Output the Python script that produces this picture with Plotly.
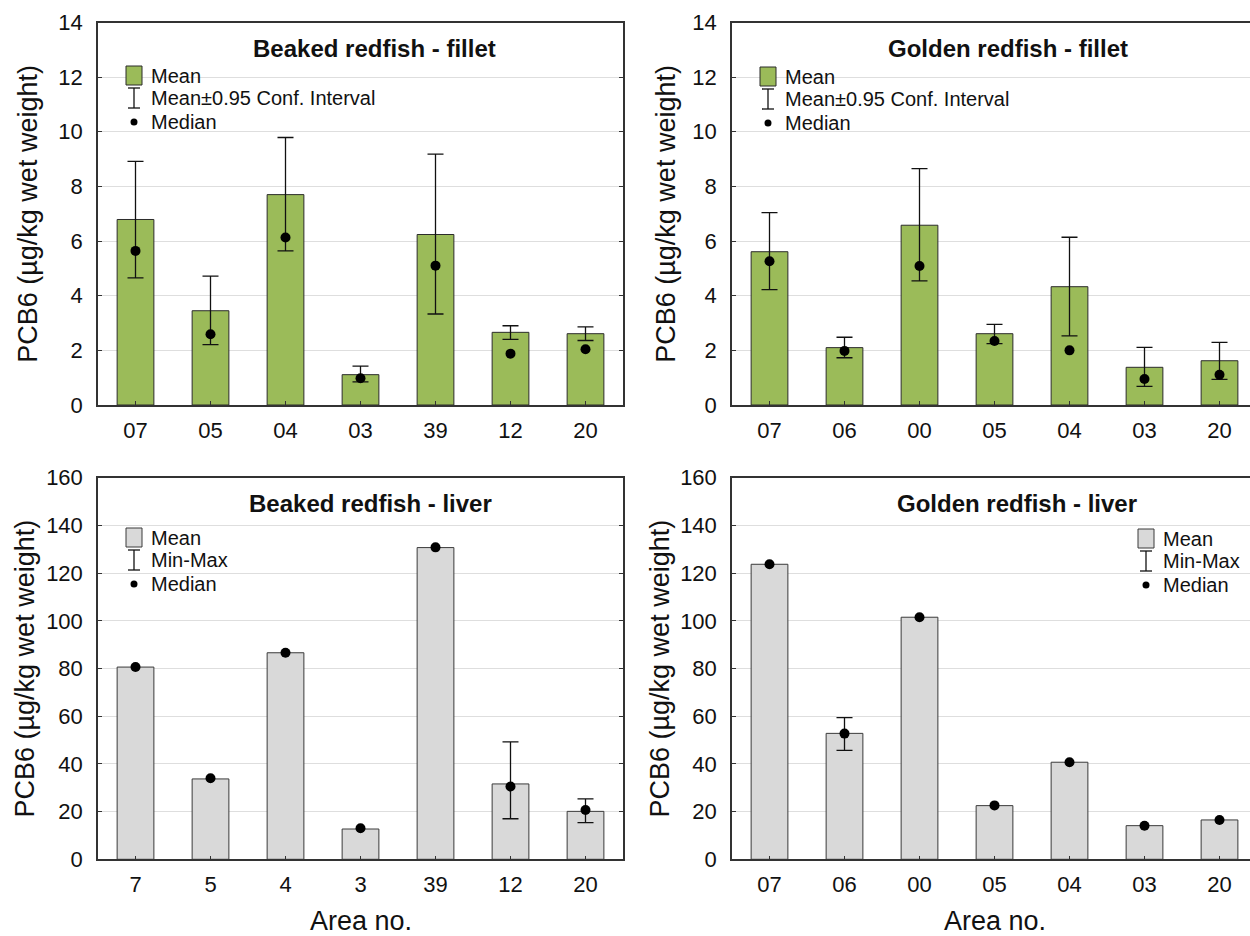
import plotly.graph_objects as go

W, H = 1250, 936

# ---------------- data ----------------
bf_areas = ["07", "05", "04", "03", "39", "12", "20"]
bf_mean = [6.79, 3.45, 7.70, 1.11, 6.24, 2.66, 2.61]
bf_ci_low = [4.65, 2.21, 5.64, 0.85, 3.33, 2.40, 2.36]
bf_ci_high = [8.92, 4.72, 9.79, 1.42, 9.18, 2.90, 2.86]
bf_median = [5.64, 2.59, 6.13, 0.98, 5.10, 1.88, 2.04]

gf_areas = ["07", "06", "00", "05", "04", "03", "20"]
gf_mean = [5.61, 2.10, 6.58, 2.61, 4.33, 1.38, 1.62]
gf_ci_low = [4.22, 1.73, 4.54, 2.25, 2.53, 0.68, 0.94]
gf_ci_high = [7.04, 2.48, 8.65, 2.95, 6.14, 2.11, 2.29]
gf_median = [5.26, 1.98, 5.09, 2.34, 2.00, 0.95, 1.11]

bl_areas = ["7", "5", "4", "3", "39", "12", "20"]
bl_mean = [80.6, 33.7, 86.6, 12.7, 130.7, 31.6, 20.1]
bl_min = [None, None, None, None, None, 17.0, 15.4]
bl_max = [None, None, None, None, None, 49.2, 25.3]
bl_median = [80.6, 34.0, 86.6, 13.0, 130.8, 30.5, 20.7]

gl_areas = ["07", "06", "00", "05", "04", "03", "20"]
gl_mean = [123.7, 52.8, 101.5, 22.5, 40.7, 14.1, 16.5]
gl_min = [None, 45.7, None, None, None, None, None]
gl_max = [None, 59.4, None, None, None, None, None]
gl_median = [123.7, 52.7, 101.5, 22.6, 40.7, 14.1, 16.5]

titles = ["Beaked redfish - fillet", "Golden redfish - fillet",
          "Beaked redfish - liver", "Golden redfish - liver"]
y_title = "PCB6 (µg/kg wet weight)"
x_title = "Area no."

# ---------------- styling ----------------
FONT = "Liberation Sans, Arial, sans-serif"
TXT = "#111111"
GREEN = "#9BBB59"
GREEN_EDGE = "#2b2b2b"
GRAY = "#D9D9D9"
GRAY_EDGE = "#3a3a3a"
AXIS = "#333333"
GRID = "#DEDEDE"


def px(x):
    return x / W


def py(y):
    return 1 - y / H


panels = [
    dict(areas=bf_areas, mean=bf_mean, lo=bf_ci_low, hi=bf_ci_high, med=bf_median,
         fill=GREEN, edge=GREEN_EDGE, xd=(98, 623), xr=(-0.5, 6.5), yd=(405, 22.5),
         yr=(0, 14), dt=2, right=False, err_label="Mean±0.95 Conf. Interval",
         leg=(126, 66), title_xy=(374, 48), ytitle_x=28),
    dict(areas=gf_areas, mean=gf_mean, lo=gf_ci_low, hi=gf_ci_high, med=gf_median,
         fill=GREEN, edge=GREEN_EDGE, xd=(732, 1250), xr=(-0.5, -0.5 + 518 / 75), yd=(405, 22.5),
         yr=(0, 14), dt=2, right=True, err_label="Mean±0.95 Conf. Interval",
         leg=(760, 67), title_xy=(1008, 48), ytitle_x=666),
    dict(areas=bl_areas, mean=bl_mean, lo=bl_min, hi=bl_max, med=bl_median,
         fill=GRAY, edge=GRAY_EDGE, xd=(98, 623), xr=(-0.5, 6.5), yd=(859.3, 477.7),
         yr=(0, 160), dt=20, right=False, err_label="Min-Max",
         leg=(126, 528), title_xy=(370, 503), ytitle_x=24),
    dict(areas=gl_areas, mean=gl_mean, lo=gl_min, hi=gl_max, med=gl_median,
         fill=GRAY, edge=GRAY_EDGE, xd=(732, 1250), xr=(-0.5, -0.5 + 518 / 75), yd=(859.3, 477.7),
         yr=(0, 160), dt=20, right=True, err_label="Min-Max",
         leg=(1138, 529), title_xy=(1017, 503), ytitle_x=659),
]

fig = go.Figure()
shapes = []
annotations = []
layout = {}

for i, p in enumerate(panels):
    n = i + 1
    xa = "x" if n == 1 else f"x{n}"
    ya = "y" if n == 1 else f"y{n}"
    xkey = "xaxis" if n == 1 else f"xaxis{n}"
    ykey = "yaxis" if n == 1 else f"yaxis{n}"

    # bars (mean)
    fig.add_trace(go.Bar(
        x=p["areas"], y=p["mean"], width=0.49, xaxis=xa, yaxis=ya,
        marker=dict(color=p["fill"], line=dict(color=p["edge"], width=1)),
        showlegend=False, hoverinfo="skip"))

    # error bars (centered on mean)
    ex, ey, up, dn = [], [], [], []
    for a, m, lo, hi in zip(p["areas"], p["mean"], p["lo"], p["hi"]):
        if lo is None or hi is None:
            continue
        ex.append(a)
        ey.append(m)
        up.append(hi - m)
        dn.append(m - lo)
    if ex:
        fig.add_trace(go.Scatter(
            x=ex, y=ey, mode="markers", xaxis=xa, yaxis=ya,
            marker=dict(size=1, color="rgba(0,0,0,0)"),
            error_y=dict(type="data", symmetric=False, array=up, arrayminus=dn,
                         color="#111111", thickness=1.3, width=8),
            showlegend=False, hoverinfo="skip"))

    # medians
    fig.add_trace(go.Scatter(
        x=p["areas"], y=p["med"], mode="markers", xaxis=xa, yaxis=ya,
        marker=dict(size=10, color="#000000"),
        showlegend=False, hoverinfo="skip"))

    layout[xkey] = dict(
        type="category", domain=[px(p["xd"][0]), px(p["xd"][1])], range=list(p["xr"]),
        anchor=ya, showline=True, linecolor=AXIS, linewidth=1.5, mirror=True,
        ticks="inside", ticklen=4, tickcolor=AXIS, tickwidth=1,
        tickfont=dict(family=FONT, size=22, color=TXT), showgrid=False,
        ticklabelstandoff=5, fixedrange=True, automargin=False)
    layout[ykey] = dict(
        domain=[py(p["yd"][0]), py(p["yd"][1])], range=list(p["yr"]), dtick=p["dt"],
        anchor=xa, showline=True, linecolor=AXIS, linewidth=1.5,
        mirror=(False if p["right"] else "ticks"),
        ticks="inside", ticklen=4, tickcolor=AXIS, tickwidth=1,
        tickfont=dict(family=FONT, size=22, color=TXT),
        showgrid=True, gridcolor=GRID, gridwidth=1, zeroline=False,
        ticklabelstandoff=9, fixedrange=True, automargin=False)

    # panel title
    annotations.append(dict(
        text=f"<b>{titles[i]}</b>", x=px(p["title_xy"][0]), y=py(p["title_xy"][1]),
        xref="paper", yref="paper", xanchor="center", yanchor="middle",
        showarrow=False, font=dict(family=FONT, size=24, color=TXT)))

    # y-axis title
    ymid = (p["yd"][0] + p["yd"][1]) / 2
    annotations.append(dict(
        text=y_title, x=px(p["ytitle_x"]), y=py(ymid), xref="paper", yref="paper",
        xanchor="center", yanchor="middle", textangle=-90, showarrow=False,
        font=dict(family=FONT, size=27, color=TXT)))

    # legend (drawn manually)
    lx, ly = p["leg"]
    shapes.append(dict(type="rect", xref="paper", yref="paper",
                       x0=px(lx), x1=px(lx + 16), y0=py(ly), y1=py(ly + 19),
                       fillcolor=p["fill"], line=dict(color=p["edge"], width=1)))
    cx = lx + 8
    shapes.append(dict(type="line", xref="paper", yref="paper",
                       x0=px(cx), x1=px(cx), y0=py(ly + 22), y1=py(ly + 42),
                       line=dict(color="#111111", width=1.3)))
    for yy in (ly + 22, ly + 42):
        shapes.append(dict(type="line", xref="paper", yref="paper",
                           x0=px(cx - 6), x1=px(cx + 6), y0=py(yy), y1=py(yy),
                           line=dict(color="#111111", width=1.3)))
    shapes.append(dict(type="circle", xref="paper", yref="paper",
                       x0=px(cx - 3.5), x1=px(cx + 3.5), y0=py(ly + 56 - 3.5), y1=py(ly + 56 + 3.5),
                       fillcolor="#000000", line=dict(color="#000000", width=0)))
    for txt, dy in (("Mean", 10), (p["err_label"], 32), ("Median", 56)):
        annotations.append(dict(
            text=txt, x=px(lx + 23), y=py(ly + dy), xref="paper", yref="paper",
            xanchor="left", yanchor="middle", showarrow=False,
            font=dict(family=FONT, size=20, color=TXT)))

# x-axis titles (bottom row)
for xc in (361, 995):
    annotations.append(dict(
        text=x_title, x=px(xc), y=py(921), xref="paper", yref="paper",
        xanchor="center", yanchor="middle", showarrow=False,
        font=dict(family=FONT, size=27, color=TXT)))

fig.update_layout(
    width=W, height=H, autosize=False, margin=dict(l=0, r=0, t=0, b=0, pad=0),
    paper_bgcolor="white", plot_bgcolor="white",
    showlegend=False, barmode="overlay",
    shapes=shapes, annotations=annotations,
    font=dict(family=FONT, color=TXT),
    **layout)

fig.write_html("out.html",
               config={"displayModeBar": False, "responsive": False},
               post_script="document.body.style.margin='0';"
                           "document.body.style.padding='0';"
                           "document.body.style.overflow='hidden';")
